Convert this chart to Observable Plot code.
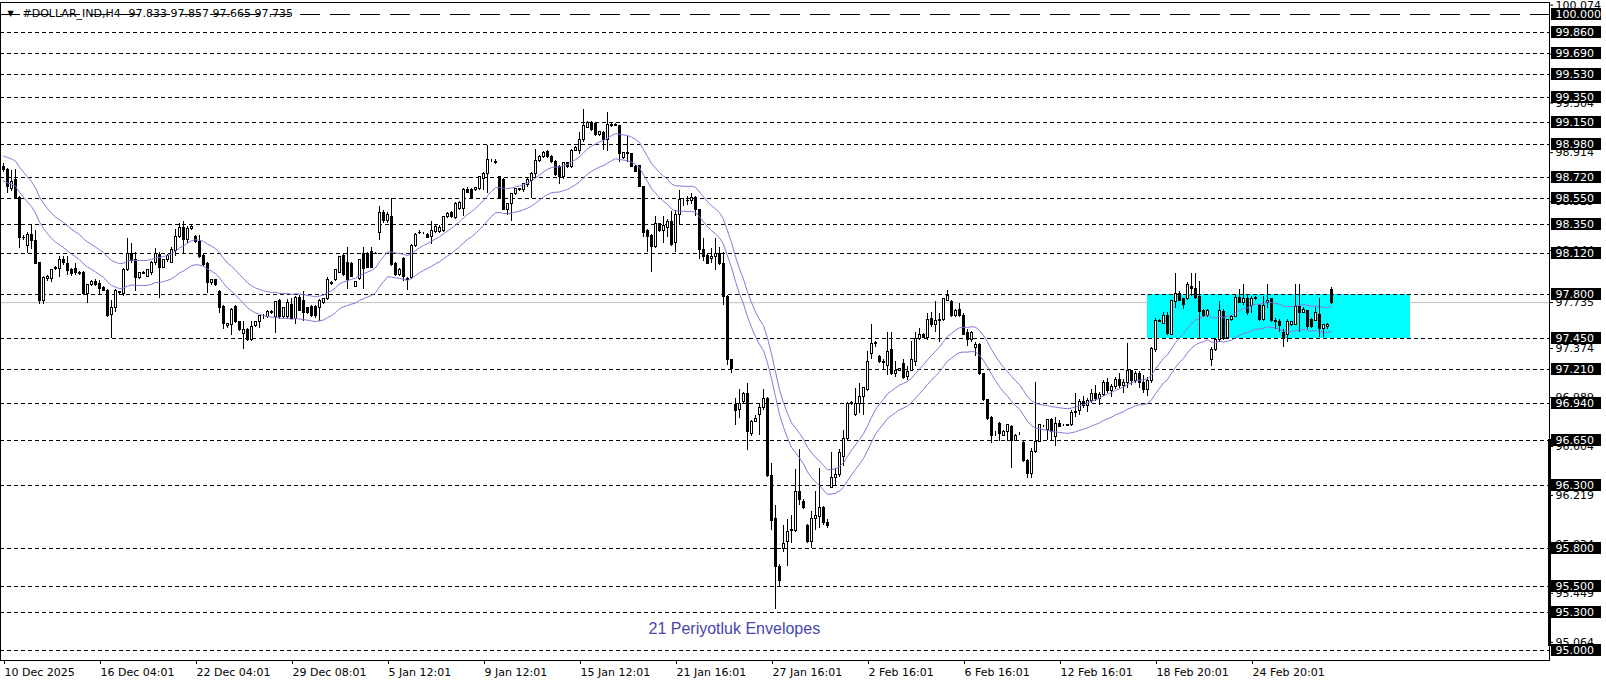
<!DOCTYPE html>
<html>
<head>
<meta charset="utf-8">
<script src="https://cdn.jsdelivr.net/npm/d3@7"></script>
<script src="https://cdn.jsdelivr.net/npm/@observablehq/plot@0.6"></script>
<style>
  html, body { margin: 0; padding: 0; background: #ffffff; }
  #chart svg { display: block; }
</style>
</head>
<body>
<div id="chart"></div>
<script>
// ---------- DATA ----------
const open = [
98.80,98.78,98.63,98.70,98.56,98.24,98.18,98.27,98.22,98.05,
97.75,97.92,97.92,98.00,98.00,98.07,98.04,97.99,98.00,97.96,
97.97,97.80,97.87,97.90,97.88,97.85,97.83,97.64,97.69,97.81,
97.80,97.99,98.12,98.07,97.93,97.97,97.94,97.97,98.05,98.11,
98.01,98.07,98.05,98.14,98.25,98.32,98.23,98.31,98.25,98.21,
98.10,98.04,97.89,97.91,97.82,97.70,97.55,97.56,97.70,97.58,
97.49,97.52,97.44,97.55,97.58,97.62,97.62,97.66,97.62,97.75,
97.62,97.62,97.72,97.61,97.77,97.75,97.69,97.70,97.70,97.69,
97.73,97.76,97.89,97.91,97.97,98.10,98.05,98.04,97.86,97.92,
98.12,98.12,98.13,98.12,98.28,98.44,98.38,98.41,98.04,97.95,
98.08,97.91,97.93,98.18,98.28,98.28,98.27,98.25,98.29,98.29,
98.30,98.41,98.44,98.40,98.47,98.47,98.62,98.62,98.62,98.63,
98.71,98.75,98.85,98.84,98.72,98.70,98.46,98.51,98.59,98.62,
98.62,98.66,98.69,98.75,98.85,98.88,98.92,98.88,98.84,98.80,
98.72,98.83,98.80,98.93,98.93,99.01,99.11,99.15,99.14,99.05,
99.07,99.01,99.12,99.13,99.12,98.87,98.91,98.90,98.80,98.81,
98.64,98.30,98.26,98.17,98.35,98.30,98.32,98.37,98.20,98.42,
98.53,98.53,98.53,98.56,98.46,98.15,98.10,98.08,98.09,98.12,
98.04,97.78,97.28,96.93,96.89,96.95,97.02,96.70,96.80,96.85,
96.91,96.98,96.37,96.03,95.66,95.80,95.85,95.94,95.94,96.25,
96.17,95.98,95.85,96.03,96.05,96.12,96.00,96.28,96.36,96.38,
96.52,96.66,96.94,96.85,96.94,96.99,97.05,97.33,97.41,97.31,
97.27,97.24,97.36,97.17,97.20,97.25,97.15,97.20,97.27,97.45,
97.48,97.46,97.61,97.56,97.59,97.60,97.75,97.74,97.63,97.68,
97.63,97.50,97.44,97.38,97.40,97.17,96.97,96.83,96.70,96.78,
96.69,96.72,96.76,96.65,96.70,96.63,96.49,96.39,96.56,96.64,
96.76,96.73,96.81,96.68,96.78,96.77,96.77,96.77,96.87,96.88,
96.95,96.92,96.96,97.02,96.98,97.01,97.10,97.04,97.07,97.13,
97.08,97.10,97.20,97.12,97.17,97.10,97.05,97.12,97.36,97.59,
97.57,97.63,97.48,97.74,97.80,97.76,97.76,97.86,97.84,97.78,
97.67,97.63,97.28,97.36,97.44,97.66,97.46,97.60,97.62,97.77,
97.73,97.76,97.71,97.76,97.71,97.60,97.73,97.76,97.59,97.58,
97.50,97.48,97.56,97.56,97.70,97.65,97.67,97.60,97.59,97.64,
97.53,97.54,97.833
];
const high = [
98.83,98.79,98.77,98.78,98.57,98.26,98.29,98.34,98.30,98.05,
97.94,97.95,97.99,98.02,98.10,98.10,98.10,98.00,98.04,97.98,
97.98,97.88,97.91,97.92,97.91,97.86,97.84,97.75,97.84,97.82,
98.00,98.24,98.20,98.13,97.97,97.98,97.99,98.06,98.16,98.13,
98.07,98.11,98.17,98.31,98.36,98.37,98.33,98.34,98.26,98.26,
98.11,98.05,97.92,97.92,97.83,97.71,97.57,97.69,97.71,97.59,
97.59,97.53,97.59,97.59,97.63,97.64,97.67,97.67,97.74,97.76,
97.69,97.76,97.77,97.78,97.79,97.82,97.70,97.71,97.71,97.76,
97.77,97.93,97.90,97.99,98.10,98.11,98.17,98.05,97.90,98.07,
98.17,98.13,98.17,98.13,98.49,98.46,98.44,98.55,98.05,98.00,
98.09,97.93,98.19,98.28,98.30,98.29,98.28,98.37,98.34,98.34,
98.41,98.44,98.45,98.52,98.53,98.63,98.64,98.63,98.64,98.72,
98.76,98.97,98.86,98.86,98.73,98.71,98.51,98.59,98.63,98.63,
98.67,98.71,98.76,98.94,98.89,98.92,98.93,98.89,98.85,98.81,
98.84,98.84,98.94,98.96,99.07,99.25,99.16,99.16,99.15,99.08,
99.08,99.23,99.14,99.14,99.13,98.91,99.04,98.91,98.81,98.81,
98.65,98.31,98.27,98.41,98.36,98.41,98.39,98.45,98.46,98.62,
98.55,98.57,98.59,98.57,98.47,98.24,98.11,98.16,98.24,98.17,
98.13,97.79,97.29,96.98,97.05,97.03,97.10,96.81,96.85,96.94,
97.05,96.99,96.47,96.14,95.68,95.98,96.03,96.06,96.42,96.58,
96.19,95.99,96.09,96.25,96.43,96.13,96.03,96.56,96.43,96.58,
96.73,96.95,96.96,97.06,97.10,97.07,97.35,97.56,97.43,97.32,
97.29,97.50,97.50,97.27,97.22,97.29,97.23,97.43,97.50,97.53,
97.49,97.65,97.66,97.74,97.65,97.77,97.83,97.75,97.68,97.73,
97.65,97.52,97.51,97.42,97.41,97.18,96.97,96.84,96.72,96.79,
96.73,96.78,96.77,96.70,96.71,96.64,96.50,96.59,97.11,96.77,
96.77,96.81,96.82,96.83,96.81,96.78,96.78,96.89,97.02,96.97,
97.00,96.98,97.05,97.08,97.03,97.12,97.14,97.09,97.15,97.18,
97.13,97.41,97.20,97.19,97.19,97.16,97.15,97.38,97.61,97.60,
97.66,97.66,97.75,97.96,97.82,97.77,97.89,97.96,97.96,97.90,
97.68,97.68,97.38,97.45,97.74,97.68,97.60,97.63,97.79,97.84,
97.88,97.80,97.78,97.78,97.72,97.78,97.88,97.77,97.61,97.60,
97.52,97.60,97.59,97.88,97.88,97.70,97.67,97.61,97.70,97.77,
97.56,97.57,97.857
];
const low = [
98.76,98.59,98.61,98.55,98.16,98.22,98.12,98.15,98.04,97.72,
97.72,97.90,97.89,97.99,97.93,98.03,97.95,97.94,97.95,97.95,
97.79,97.73,97.86,97.86,97.80,97.82,97.62,97.45,97.66,97.80,
97.78,97.98,98.04,97.82,97.92,97.96,97.93,97.95,98.03,97.77,
98.00,98.05,98.04,98.10,98.24,98.11,98.20,98.30,98.20,98.08,
98.02,97.81,97.87,97.86,97.65,97.52,97.53,97.48,97.57,97.51,
97.37,97.43,97.43,97.54,97.53,97.60,97.61,97.64,97.49,97.60,
97.61,97.60,97.60,97.56,97.67,97.59,97.64,97.62,97.61,97.59,
97.72,97.75,97.87,97.90,97.96,97.94,97.84,97.93,97.85,97.91,
97.84,98.01,98.00,98.11,98.22,98.36,98.36,98.02,97.94,97.94,
97.90,97.83,97.92,98.17,98.27,98.27,98.24,98.19,98.28,98.28,
98.29,98.40,98.40,98.39,98.46,98.41,98.59,98.55,98.61,98.62,
98.62,98.59,98.84,98.82,98.55,98.46,98.42,98.37,98.58,98.61,
98.60,98.64,98.55,98.71,98.84,98.87,98.87,98.83,98.73,98.66,
98.70,98.79,98.79,98.92,98.90,98.99,99.10,99.08,99.04,99.04,
98.93,98.92,99.11,99.12,98.84,98.86,98.84,98.80,98.76,98.64,
98.25,98.13,97.97,98.16,98.29,98.20,98.25,98.18,98.13,98.35,
98.49,98.50,98.51,98.41,98.07,98.06,98.04,98.04,97.99,98.03,
97.71,97.24,97.18,96.77,96.82,96.94,96.57,96.68,96.79,96.69,
96.89,96.36,95.94,95.32,95.50,95.77,95.66,95.84,95.93,96.14,
96.11,95.84,95.80,95.94,95.96,95.98,95.96,96.27,96.30,96.36,
96.45,96.65,96.93,96.84,96.86,96.85,97.04,97.29,97.38,97.26,
97.21,97.16,97.16,97.15,97.19,97.13,97.12,97.19,97.23,97.44,
97.45,97.44,97.54,97.50,97.42,97.59,97.75,97.62,97.62,97.62,
97.48,97.39,97.42,97.31,97.16,96.96,96.81,96.63,96.68,96.64,
96.68,96.64,96.43,96.64,96.69,96.48,96.35,96.35,96.55,96.64,
96.75,96.65,96.64,96.60,96.76,96.76,96.76,96.76,96.83,96.85,
96.90,96.87,96.94,96.96,96.93,97.00,97.02,96.99,97.05,97.06,
97.02,97.06,97.08,97.10,97.06,97.02,97.00,97.10,97.34,97.58,
97.56,97.48,97.48,97.69,97.74,97.68,97.75,97.78,97.76,97.45,
97.62,97.62,97.23,97.35,97.42,97.44,97.45,97.59,97.62,97.73,
97.71,97.63,97.65,97.75,97.59,97.59,97.69,97.58,97.52,97.50,
97.38,97.42,97.55,97.56,97.50,97.65,97.52,97.53,97.59,97.46,
97.46,97.52,97.72
];
const close = [
98.78,98.64,98.68,98.56,98.24,98.245,98.27,98.22,98.04,97.75,
97.93,97.94,97.99,98.01,98.07,98.05,97.98,97.96,97.97,97.965,
97.80,97.87,97.90,97.87,97.84,97.83,97.63,97.69,97.83,97.815,
97.99,98.12,98.06,97.93,97.97,97.96,97.99,98.05,98.12,98.01,
98.07,98.10,98.15,98.25,98.32,98.23,98.31,98.33,98.21,98.09,
98.03,97.89,97.91,97.87,97.69,97.57,97.565,97.68,97.58,97.52,
97.52,97.44,97.54,97.58,97.63,97.62,97.66,97.65,97.74,97.62,
97.69,97.73,97.61,97.77,97.67,97.65,97.65,97.63,97.63,97.75,
97.76,97.91,97.88,97.99,98.09,97.95,97.91,97.94,97.90,98.07,
98.00,98.01,98.01,98.115,98.44,98.38,98.42,98.03,97.95,97.99,
97.94,97.92,98.18,98.27,98.285,98.28,98.245,98.30,98.33,98.32,
98.41,98.43,98.41,98.51,98.52,98.62,98.60,98.56,98.635,98.72,
98.75,98.86,98.85,98.83,98.56,98.46,98.51,98.59,98.63,98.625,
98.67,98.70,98.75,98.85,98.88,98.91,98.88,98.84,98.74,98.72,
98.83,98.80,98.93,98.95,99.01,99.12,99.15,99.09,99.05,99.075,
99.01,99.13,99.13,99.125,98.90,98.91,98.905,98.80,98.76,98.64,
98.28,98.25,98.17,98.35,98.30,98.34,98.37,98.19,98.42,98.54,
98.53,98.535,98.56,98.46,98.15,98.09,98.04,98.09,98.12,98.04,
97.78,97.28,97.21,96.88,96.94,97.02,96.72,96.80,96.82,96.91,
96.98,96.37,96.02,95.66,95.55,95.84,95.93,95.945,96.25,96.18,
96.12,95.85,96.03,96.06,96.12,96.00,95.98,96.36,96.38,96.55,
96.66,96.94,96.945,96.94,96.99,97.06,97.27,97.41,97.42,97.27,
97.26,97.35,97.17,97.20,97.21,97.14,97.19,97.28,97.45,97.48,
97.46,97.60,97.56,97.59,97.60,97.76,97.79,97.63,97.67,97.63,
97.48,97.44,97.50,97.40,97.17,96.97,96.82,96.69,96.70,96.70,
96.72,96.77,96.65,96.69,96.70,96.49,96.39,96.56,96.64,96.77,
96.76,96.81,96.72,96.78,96.76,96.77,96.765,96.87,96.875,96.95,
96.92,96.96,97.02,96.98,97.01,97.10,97.04,97.07,97.13,97.08,
97.10,97.20,97.12,97.17,97.10,97.05,97.12,97.37,97.59,97.585,
97.63,97.49,97.75,97.80,97.75,97.72,97.87,97.84,97.77,97.66,
97.63,97.67,97.36,97.44,97.67,97.45,97.60,97.62,97.77,97.73,
97.76,97.65,97.76,97.77,97.60,97.71,97.75,97.59,97.58,97.55,
97.46,97.58,97.58,97.70,97.65,97.68,97.54,97.54,97.65,97.53,
97.56,97.56,97.735
];

// envelope midline at the first visible bar
const emaSeed = 98.79;
const envelopePeriod = 21;
const envelopeDeviationPct = 0.1;

// horizontal levels with black price boxes
const levels = [100.000, 99.860, 99.690, 99.530, 99.350, 99.150, 98.980, 98.720, 98.550, 98.350,
                98.120, 97.800, 97.450, 97.210, 96.940, 96.650, 96.300, 95.800, 95.500, 95.300, 95.000];
// plain price-scale labels
const scaleLabels = [100.074, 99.689, 99.304, 98.914, 98.529, 98.144, 97.374, 96.989,
                     96.604, 96.219, 95.834, 95.449, 95.064];
const lastPrice = 97.735;

// time axis (bar index -> label)
const tickBars = [0, 24, 48, 72, 96, 120, 144, 168, 192, 216, 240, 264, 288, 312];
const tickLabels = ["10 Dec 2025", "16 Dec 04:01", "22 Dec 04:01", "29 Dec 08:01", "5 Jan 12:01",
                    "9 Jan 12:01", "15 Jan 12:01", "21 Jan 16:01", "27 Jan 16:01", "2 Feb 16:01",
                    "6 Feb 16:01", "12 Feb 16:01", "18 Feb 20:01", "24 Feb 20:01"];

// cyan zone
const zoneBars = [286, 351.75];
const zonePrices = [97.45, 97.80];
// thick marker on the price scale
const scaleMarker = [96.66, 95.03];

const symbolText = "#DOLLAR_IND,H4";
const quoteText = "97.833 97.857 97.665 97.735";
const envelopeText = "21 Periyotluk Envelopes";

// ---------- BUILD ----------
const bars = close.map((c, i) => ({
  i,
  o: open[i],
  c,
  h: Math.max(high[i], open[i], c),
  l: Math.min(low[i], open[i], c),
  up: c >= open[i]
}));

const k = 2 / (envelopePeriod + 1);
let ema = emaSeed;
const env = bars.map(b => {
  ema = ema + k * (b.c - ema);
  return {i: b.i, hi: ema * (1 + envelopeDeviationPct / 100), lo: ema * (1 - envelopeDeviationPct / 100)};
});

const zone = [{x1: zoneBars[0], x2: zoneBars[1], y1: zonePrices[0], y2: zonePrices[1]}];
const boxHalf = 6 / 127.2;
const fmt = d => d.toFixed(3);

const chart = Plot.plot({
  width: 1606,
  height: 684,
  marginLeft: 0,
  marginRight: 57,
  marginTop: 2,
  marginBottom: 24,
  style: {fontFamily: "DejaVu Sans", fontSize: "11px", background: "#ffffff", color: "#000000", overflow: "visible"},
  x: {type: "linear", domain: [-0.75, 386.25], range: [0, 1548], label: null},
  y: {type: "linear", domain: [95, 100], range: [650, 14], label: null},
  marks: [
    // current price line
    Plot.ruleY([lastPrice], {stroke: "#c0c0c0", strokeWidth: 1}),
    // cyan zone
    Plot.rect(zone, {x1: "x1", x2: "x2", y1: "y1", y2: "y2", fill: "#00ffff", shapeRendering: "crispEdges"}),
    // horizontal levels
    Plot.ruleY(levels.slice(0, 1), {stroke: "#000", strokeDasharray: "20,10", shapeRendering: "crispEdges"}),
    Plot.ruleY(levels.slice(1), {stroke: "#000", strokeDasharray: "4,3", shapeRendering: "crispEdges"}),
    // candle wicks
    Plot.ruleX(bars, {x: "i", y1: "l", y2: "h", stroke: "#000", strokeWidth: 1, shapeRendering: "crispEdges"}),
    // candle bodies
    Plot.rect(bars, {
      x1: d => d.i - 0.25, x2: d => d.i + 0.25, y1: "o", y2: "c",
      fill: d => d.up ? "#ffffff" : "#000000", stroke: "#000", strokeWidth: 1, shapeRendering: "crispEdges"
    }),
    // envelopes
    Plot.line(env, {x: "i", y: "hi", stroke: "#9370db", strokeWidth: 1}),
    Plot.line(env, {x: "i", y: "lo", stroke: "#9370db", strokeWidth: 1}),
    // frame
    Plot.frame({stroke: "#000", strokeWidth: 1, shapeRendering: "crispEdges"}),
    // price scale plain labels
    Plot.axisY({anchor: "right", ticks: [...scaleLabels, lastPrice], tickFormat: fmt, tickSize: 3, tickPadding: 3, fontSize: 11}),
    // thick marker on price scale
    Plot.ruleX([386.5], {y1: scaleMarker[0], y2: scaleMarker[1], stroke: "#000", strokeWidth: 3, shapeRendering: "crispEdges"}),
    // level boxes
    Plot.rect(levels, {x1: 387, x2: 399.5, y1: d => d - boxHalf, y2: d => d + boxHalf, fill: "#000", shapeRendering: "crispEdges"}),
    Plot.text(levels, {x: 388, y: d => d, text: fmt, fill: "#ffffff", textAnchor: "start", fontSize: 11}),
    // time axis
    Plot.axisX({anchor: "bottom", ticks: tickBars, tickFormat: d => tickLabels[tickBars.indexOf(d)],
                tickSize: 4, tickPadding: 4, textAnchor: "start", dx: 1, fontSize: 11}),
    // header
    Plot.text(["▼"], {text: d => d, frameAnchor: "top-left", dx: 7, dy: 10.5, lineAnchor: "middle", textAnchor: "start", fontSize: 8}),
    Plot.text([symbolText], {text: d => d, frameAnchor: "top-left", dx: 22, dy: 10.5, lineAnchor: "middle", textAnchor: "start", fontSize: 11}),
    Plot.text([quoteText], {text: d => d, frameAnchor: "top-left", dx: 128, dy: 10.5, lineAnchor: "middle", textAnchor: "start", fontSize: 11}),
    // envelope caption
    Plot.text([envelopeText], {text: d => d, frameAnchor: "top-left", dx: 648, dy: 626, lineAnchor: "middle", textAnchor: "start",
                               fontSize: 16, fontFamily: "Liberation Sans", fill: "#4646aa"})
  ]
});
document.getElementById("chart").appendChild(chart);
</script>
</body>
</html>
